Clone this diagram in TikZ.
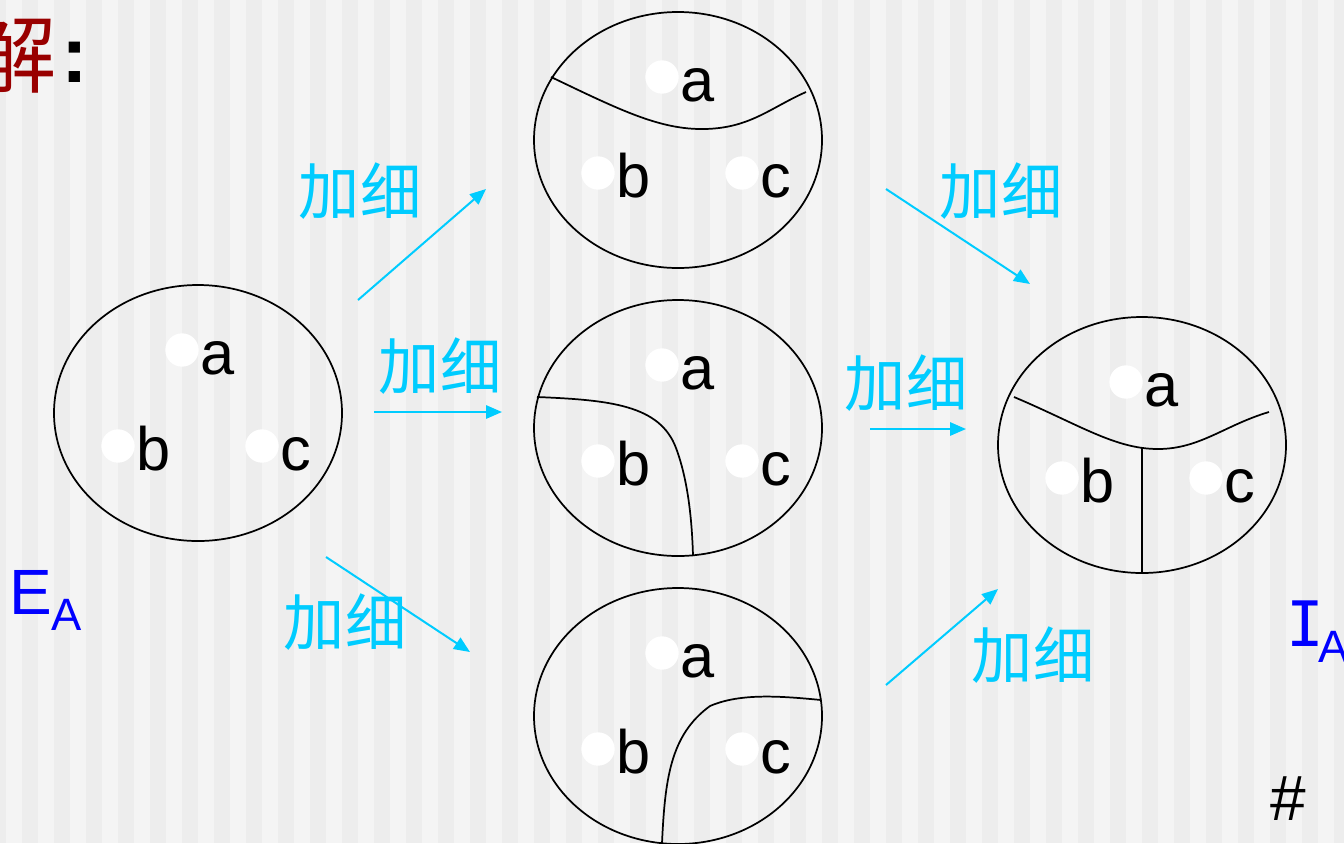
\documentclass[tikz,border=0pt]{standalone}
\usepackage{fontspec}
\setmainfont{Liberation Sans}
\newfontfamily\cjk{Noto Sans CJK SC}
\newfontfamily\dvmono{DejaVu Sans Mono}
\usetikzlibrary{shapes.geometric,arrows.meta}
\definecolor{stripeA}{HTML}{F4F4F4}
\definecolor{stripeB}{HTML}{EDEDED}
\definecolor{cyanarr}{HTML}{00CCFF}
\definecolor{darkred}{HTML}{990000}
\definecolor{pureblue}{HTML}{0000FF}
\tikzset{
  ell/.style={ellipse,draw=black,line width=1.3pt,minimum width=216pt,minimum height=192pt,inner sep=0pt},
  dotnode/.style={circle,fill=white,minimum size=25pt,inner sep=0pt},
  lbl/.style={anchor=base west,inner sep=0pt,font=\fontsize{46}{46}\selectfont},
  part/.style={draw=black,line width=1.3pt},
  arr/.style={draw=cyanarr,line width=1.5pt,-{Triangle[length=12pt,width=10pt]}},
  cjklbl/.style={inner sep=0pt,text=cyanarr,font=\cjk\fontsize{46}{46}\selectfont},
}
\newcommand\ellgroup[3]{%
  \node[ell] (#1) at (#2,#3) {};
  \node[dotnode] (#1da) at ([shift={(-16,-63)}]#1.center) {};
  \node[dotnode] (#1db) at ([shift={(-80,33)}]#1.center) {};
  \node[dotnode] (#1dc) at ([shift={(64,33)}]#1.center) {};
  \node[lbl] (#1a) at ([shift={(18,24)}]#1da.center) {a};
  \node[lbl] (#1b) at ([shift={(18,24)}]#1db.center) {b};
  \node[lbl] (#1c) at ([shift={(18,24)}]#1dc.center) {c};
}
\begin{document}
\begin{tikzpicture}[x=0.75pt,y=-0.75pt]
\clip (0,0) rectangle (1344,843);
\fill[stripeA] (0,0) rectangle (1344,843);
\foreach \i in {0,...,42} \fill[stripeB] ({-10+32*\i},0) rectangle ++(16,843);

% title
\node[inner sep=0pt,text=darkred,font=\cjk\fontsize{64}{64}\selectfont] (title) at (14,54) {解};
\node[anchor=base west,inner sep=0pt,font=\bfseries\fontsize{60}{60}\selectfont] (colon) at (61,82) {:};

% ellipses
\ellgroup{E}{198}{413}
\ellgroup{T}{678}{140}
\ellgroup{M}{678}{428}
\ellgroup{B}{678}{716}
\ellgroup{R}{1142}{445}

% partition curves
\draw[part] (551,77) .. controls (620,110) and (660,130) .. (705,129) .. controls (750,128) and (770,108) .. (806,92);
\draw[part] (537,397) .. controls (610,400) and (660,405) .. (676,448) .. controls (688,480) and (692,520) .. (693,556);
\draw[part] (662,843) .. controls (665,780) and (670,735) .. (710,706) .. controls (740,693) and (780,696) .. (821,700);
\draw[part] (1014,397) .. controls (1080,425) and (1115,449) .. (1158,449) .. controls (1200,449) and (1225,425) .. (1269,412);
\coordinate (Rj) at (1142,447);
\draw[part] (Rj) -- (R.south);

% arrows
\coordinate (a1s) at (358,300); \coordinate (a1e) at (486,189);
\coordinate (a2s) at (374,412); \coordinate (a2e) at (502,412);
\coordinate (a3s) at (326,557); \coordinate (a3e) at (470,652);
\coordinate (a4s) at (886,189); \coordinate (a4e) at (1030,284);
\coordinate (a5s) at (870,429); \coordinate (a5e) at (966,429);
\coordinate (a6s) at (886,685); \coordinate (a6e) at (998,589);
\draw[arr] (a1s) -- (a1e);
\draw[arr] (a2s) -- (a2e);
\draw[arr] (a3s) -- (a3e);
\draw[arr] (a4s) -- (a4e);
\draw[arr] (a5s) -- (a5e);
\draw[arr] (a6s) -- (a6e);

% arrow labels
\node[cjklbl] (l1) at (360,191) {加细};
\node[cjklbl] (l2) at (440,366) {加细};
\node[cjklbl] (l3) at (345,622) {加细};
\node[cjklbl] (l4) at (1001,191) {加细};
\node[cjklbl] (l5) at (906,383) {加细};
\node[cjklbl] (l6) at (1033,655) {加细};

% set names
\node[anchor=base west,inner sep=0pt,text=pureblue,font=\fontsize{48}{48}\selectfont] (EA) at (9,614) {E\raisebox{-12pt}{\fontsize{34}{34}\selectfont A}};
\node[anchor=base west,inner sep=0pt,text=pureblue,font=\fontsize{47}{47}\selectfont] (IA) at (1286,646) {{\dvmono I}\kern-4pt\raisebox{-12pt}{\fontsize{34}{34}\selectfont A}};
\node[inner sep=0pt,font=\fontsize{48}{48}\selectfont] (hash) at (1288,799) {\#};
\end{tikzpicture}
\end{document}
